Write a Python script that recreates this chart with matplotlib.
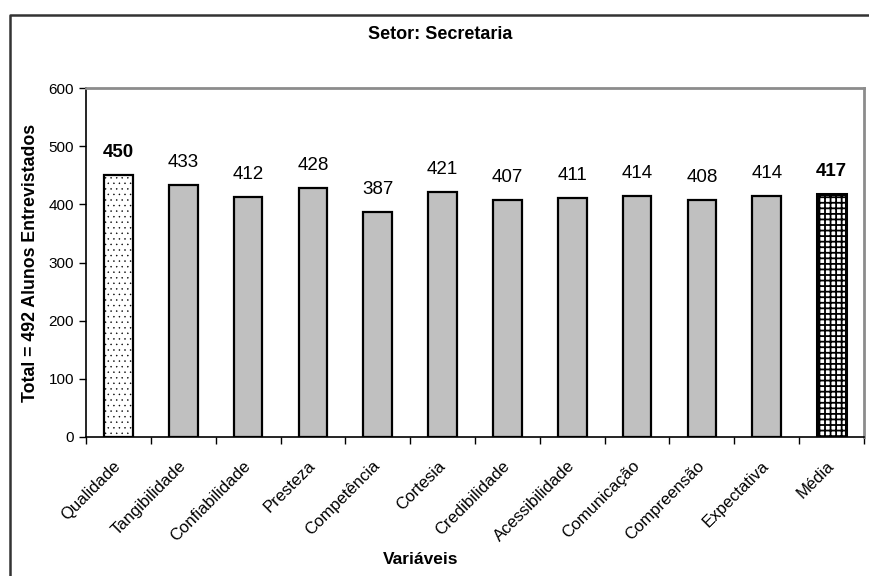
import matplotlib
matplotlib.use("Agg")
import matplotlib.pyplot as plt
from matplotlib.lines import Line2D

plt.rcParams['font.family'] = ['Liberation Sans', 'DejaVu Sans']

# data
categorias = ['Qualidade', 'Tangibilidade', 'Confiabilidade', 'Presteza', 'Competência',
              'Cortesia', 'Credibilidade', 'Acessibilidade', 'Comunicação', 'Compreensão',
              'Expectativa', 'Média']
valores = [450, 433, 412, 428, 387, 421, 407, 411, 414, 408, 414, 417]
destaque = [True] + [False] * 10 + [True]

fig = plt.figure(figsize=(8.69, 5.76), dpi=100)
ax = fig.add_axes([86/869, 1 - 437/576, (864 - 86)/869, (437 - 88)/576])

x = list(range(len(categorias)))
bars = ax.bar(x, valores, width=0.44, color='#c0c0c0', edgecolor='black', linewidth=1.6, zorder=3)

# primeira e ultima barra com preenchimento padrao
bars[0].set_facecolor('white')
bars[0].set_hatch('...')
bars[0].set_hatch_linewidth(0.3)
bars[-1].set_facecolor('white')
bars[-1].set_hatch('+++')
bars[-1].set_hatch_linewidth(1.3)
bars[-1].set_linewidth(2.2)

for xi, v, b in zip(x, valores, destaque):
    ax.text(xi, v + 24, str(v), ha='center', va='bottom', fontsize=13.5,
            fontweight='bold' if b else 'normal')

ax.set_xlim(-0.5, len(categorias) - 0.5)
ax.set_ylim(0, 600)
ax.set_yticks(range(0, 601, 100))
ax.set_xticks([i - 0.5 for i in range(len(categorias) + 1)], minor=False)
ax.set_xticklabels([])
ax.set_xticks(x, minor=True)
ax.set_xticklabels(categorias, minor=True, rotation=45, ha='right', va='center',
                   rotation_mode='anchor', fontsize=12)
ax.tick_params(axis='x', which='minor', length=0, pad=19)
ax.tick_params(axis='x', which='major', length=5, width=1, direction='out')
ax.tick_params(axis='y', length=5, width=1, labelsize=11, direction='out')

for s in ['top', 'right']:
    ax.spines[s].set_color('#8c8c8c')
    ax.spines[s].set_linewidth(2)
for s in ['left', 'bottom']:
    ax.spines[s].set_color('black')
    ax.spines[s].set_linewidth(1.2)

ax.set_ylabel('Total = 492 Alunos Entrevistados', fontsize=12.8, fontweight='bold', labelpad=7)
fig.text(440/869, 1 - 39/576, 'Setor: Secretaria', ha='center', va='baseline', fontsize=13, fontweight='bold')
fig.text(421/869, 1 - 560/576, 'Variáveis', ha='center', va='center', fontsize=12.5, fontweight='bold')

# moldura externa (so topo e esquerda)
fx, fy = 10/869, 1 - 15/576
fig.add_artist(Line2D([fx, fx, 1.0], [0.0, fy, fy], transform=fig.transFigure,
                      color='#333333', linewidth=1.8))

fig.savefig('out.png', dpi=100)
